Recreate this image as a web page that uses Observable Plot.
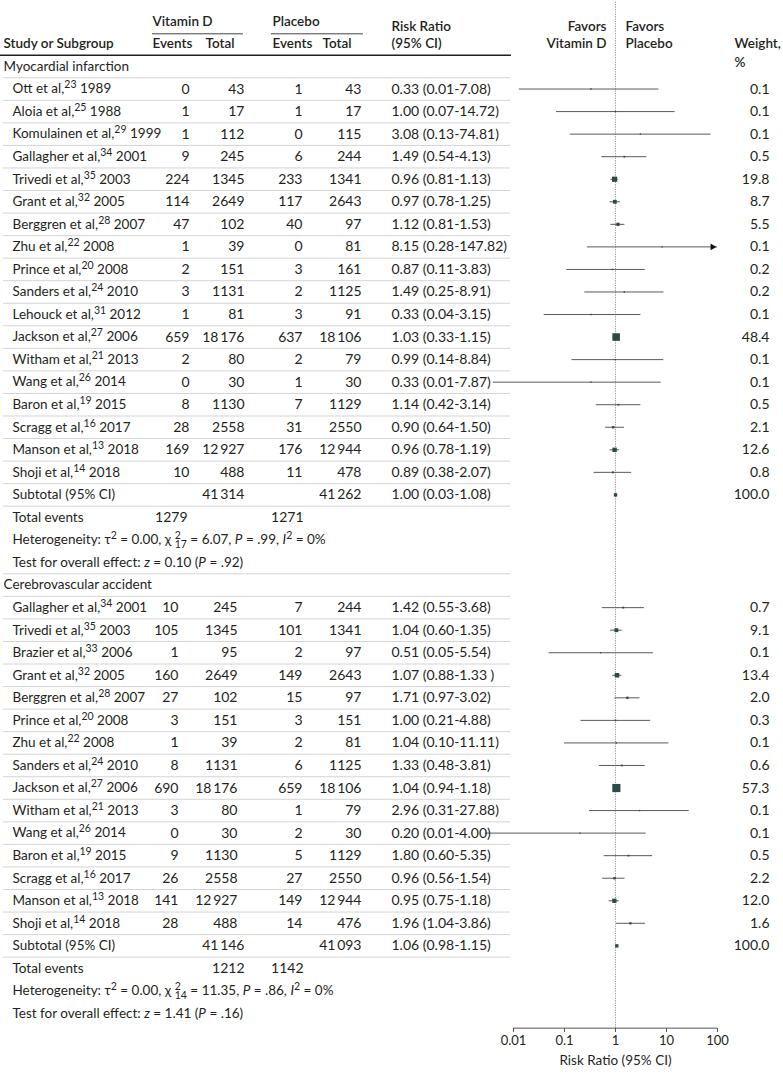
<!DOCTYPE html>
<html><head><meta charset="utf-8">
<script src="https://cdn.jsdelivr.net/npm/d3@7"></script>
<script src="https://cdn.jsdelivr.net/npm/@observablehq/plot@0.6"></script>
<style>body{margin:0;background:#fff} svg{display:block}</style>
</head><body><div id="chart"></div>
<script>
// ---------- data ----------
const sections = ["Myocardial infarction", "Cerebrovascular accident"];

const miStudy = ["Ott et al,^23^ 1989","Aloia et al,^25^ 1988","Komulainen et al,^29^ 1999","Gallagher et al,^34^ 2001","Trivedi et al,^35^ 2003","Grant et al,^32^ 2005","Berggren et al,^28^ 2007","Zhu et al,^22^ 2008","Prince et al,^20^ 2008","Sanders et al,^24^ 2010","Lehouck et al,^31^ 2012","Jackson et al,^27^ 2006","Witham et al,^21^ 2013","Wang et al,^26^ 2014","Baron et al,^19^ 2015","Scragg et al,^16^ 2017","Manson et al,^13^ 2018","Shoji et al,^14^ 2018"];
const miVitEvents = [0,1,1,9,224,114,47,1,2,3,1,659,2,0,8,28,169,10];
const miVitTotal  = [43,17,112,245,1345,2649,102,39,151,1131,81,18176,80,30,1130,2558,12927,488];
const miPlaEvents = [1,1,0,6,233,117,40,0,3,2,3,637,2,1,7,31,176,11];
const miPlaTotal  = [43,17,115,244,1341,2643,97,81,161,1125,91,18106,79,30,1129,2550,12944,478];
const miRR = [0.33,1.00,3.08,1.49,0.96,0.97,1.12,8.15,0.87,1.49,0.33,1.03,0.99,0.33,1.14,0.90,0.96,0.89];
const miLo = [0.013,0.07,0.13,0.54,0.81,0.78,0.81,0.28,0.11,0.25,0.04,0.93,0.14,0.004,0.42,0.64,0.78,0.38];
const miHi = [7.08,14.72,74.81,4.13,1.13,1.25,1.53,147.82,3.83,8.91,3.15,1.15,8.84,7.87,3.14,1.50,1.19,2.07];
const miWeight = [0.1,0.1,0.1,0.5,19.8,8.7,5.5,0.1,0.2,0.2,0.1,48.4,0.1,0.1,0.5,2.1,12.6,0.8];
const miRRText = ["0.33 (0.01-7.08)","1.00 (0.07-14.72)","3.08 (0.13-74.81)","1.49 (0.54-4.13)","0.96 (0.81-1.13)","0.97 (0.78-1.25)","1.12 (0.81-1.53)","8.15 (0.28-147.82)","0.87 (0.11-3.83)","1.49 (0.25-8.91)","0.33 (0.04-3.15)","1.03 (0.33-1.15)","0.99 (0.14-8.84)","0.33 (0.01-7.87)","1.14 (0.42-3.14)","0.90 (0.64-1.50)","0.96 (0.78-1.19)","0.89 (0.38-2.07)"];

const cvStudy = ["Gallagher et al,^34^ 2001","Trivedi et al,^35^ 2003","Brazier et al,^33^ 2006","Grant et al,^32^ 2005","Berggren et al,^28^ 2007","Prince et al,^20^ 2008","Zhu et al,^22^ 2008","Sanders et al,^24^ 2010","Jackson et al,^27^ 2006","Witham et al,^21^ 2013","Wang et al,^26^ 2014","Baron et al,^19^ 2015","Scragg et al,^16^ 2017","Manson et al,^13^ 2018","Shoji et al,^14^ 2018"];
const cvVitEvents = [10,105,1,160,27,3,1,8,690,3,0,9,26,141,28];
const cvVitTotal  = [245,1345,95,2649,102,151,39,1131,18176,80,30,1130,2558,12927,488];
const cvPlaEvents = [7,101,2,149,15,3,2,6,659,1,2,5,27,149,14];
const cvPlaTotal  = [244,1341,97,2643,97,151,81,1125,18106,79,30,1129,2550,12944,476];
const cvRR = [1.42,1.04,0.51,1.07,1.71,1.00,1.04,1.33,1.04,2.96,0.20,1.80,0.96,0.95,1.96];
const cvLo = [0.55,0.80,0.05,0.88,0.97,0.21,0.10,0.48,0.94,0.31,0.0028,0.60,0.56,0.75,1.04];
const cvHi = [3.68,1.35,5.54,1.33,3.02,4.88,11.11,3.81,1.18,27.88,4.00,5.35,1.54,1.18,3.86];
const cvWeight = [0.7,9.1,0.1,13.4,2.0,0.3,0.1,0.6,57.3,0.1,0.1,0.5,2.2,12.0,1.6];
const cvRRText = ["1.42 (0.55-3.68)","1.04 (0.60-1.35)","0.51 (0.05-5.54)","1.07 (0.88-1.33 )","1.71 (0.97-3.02)","1.00 (0.21-4.88)","1.04 (0.10-11.11)","1.33 (0.48-3.81)","1.04 (0.94-1.18)","2.96 (0.31-27.88)","0.20 (0.01-4.00)","1.80 (0.60-5.35)","0.96 (0.56-1.54)","0.95 (0.75-1.18)","1.96 (1.04-3.86)"];

const subVitTotal = [41314, 41146];
const subPlaTotal = [41262, 41093];
const subRR = [1.00, 1.06];
const subRRText = ["1.00 (0.03-1.08)", "1.06 (0.98-1.15)"];
const subWeight = [100.0, 100.0];
const totVit = [1279, 1212];
const totPla = [1271, 1142];
const hetText = ["Heterogeneity: τ^2^ = 0.00, χ ^2^_17_ = 6.07, *P* = .99, *I*^2^ = 0%",
                 "Heterogeneity: τ^2^ = 0.00, χ ^2^_14_ = 11.35, *P* = .86, *I*^2^ = 0%"];
const testText = ["Test for overall effect: *z* = 0.10 (*P* = .92)",
                  "Test for overall effect: *z* = 1.41 (*P* = .16)"];
const xTicks = [0.01, 0.1, 1, 10, 100];

// ---------- build rows ----------
const secData = [
  {names: miStudy, ve: miVitEvents, vt: miVitTotal, pe: miPlaEvents, pt: miPlaTotal, rr: miRR, lo: miLo, hi: miHi, w: miWeight, txt: miRRText},
  {names: cvStudy, ve: cvVitEvents, vt: cvVitTotal, pe: cvPlaEvents, pt: cvPlaTotal, rr: cvRR, lo: cvLo, hi: cvHi, w: cvWeight, txt: cvRRText}
];
const studies = [], secRows = [], subRows = [], totRows = [], hetRows = [], testRows = [], seps = [];
let r = 0;
secData.forEach((s, si) => {
  secRows.push({i: r, label: sections[si]}); seps.push(r + 0.5); r++;
  s.names.forEach((n, k) => {
    studies.push({i: r, sec: si, name: n, ve: s.ve[k], vt: s.vt[k], pe: s.pe[k], pt: s.pt[k],
                  rr: s.rr[k], lo: s.lo[k], hi: s.hi[k], w: s.w[k], txt: s.txt[k]});
    seps.push(r + 0.5); r++;
  });
  subRows.push({i: r, sec: si, vt: subVitTotal[si], pt: subPlaTotal[si], rr: subRR[si], txt: subRRText[si], w: subWeight[si]});
  seps.push(r + 0.5); r++;
  totRows.push({i: r, sec: si, ve: totVit[si], pe: totPla[si]}); r++;
  hetRows.push({i: r, t: hetText[si]}); r++;
  testRows.push({i: r, t: testText[si]}); if (si === 0) seps.push(r + 0.5); r++;
});

const fmtN = n => n >= 10000 ? d3.format(",")(n).replace(",", "\u2009") : String(n);
const ink = "#231f20";
const FS = 13.5, NFS = 14;
const base = {frameAnchor: "left", fill: ink, fontSize: FS, y: "i"};
const num = {frameAnchor: "left", fill: ink, fontSize: NFS, y: "i", ariaLabel: "num"};
const wnum = {frameAnchor: "left", fill: ink, fontSize: NFS, y: "i", ariaLabel: "wnum"};
const rrnum = {frameAnchor: "left", fill: ink, fontSize: NFS, y: "i", ariaLabel: "rrnum"};
const T = (str, row, x, anchor = "start", bold = false) =>
  Plot.text([str], {frameAnchor: "left", fill: ink, fontSize: FS, y: row, dx: x, textAnchor: anchor, fontWeight: bold ? 600 : 400});

const sec0 = studies.filter(d => d.sec === 0), sec1 = studies.filter(d => d.sec === 1);

const chart = Plot.plot({
  width: 783, height: 1080,
  marginLeft: 0, marginRight: 0, marginTop: 0, marginBottom: 52,
  style: {fontFamily: "Lato, 'Open Sans', sans-serif", fontSize: FS + "px", background: "#fff", color: ink},
  x: {type: "log", domain: [0.01, 100], range: [513, 717]},
  y: {domain: [-2, 42], range: [20.9, 1013], axis: null},
  r: {type: "sqrt", domain: [0, 57.3], range: [0.6, 4.6]},
  marks: [
    // separators
    Plot.ruleY(seps, {y: d => d, stroke: "#d4d4d4", strokeWidth: 1, insetLeft: 3, insetRight: 273}),
    Plot.ruleY([-0.5], {y: d => d, stroke: "#231f20", strokeWidth: 1.5, insetRight: 272}),
    Plot.ruleY([-1.45], {y: d => d, stroke: "#444", strokeWidth: 1, insetLeft: 152, insetRight: 540}),
    Plot.ruleY([-1.45], {y: d => d, stroke: "#444", strokeWidth: 1, insetLeft: 271, insetRight: 420}),
    // null line
    Plot.ruleX([1], {x: d => d, y1: -2.85, y2: 42.65, stroke: "#999", strokeWidth: 1, strokeDasharray: "1.2 1.2"}),
    // axis line
    Plot.ruleY([42.65], {y: d => d, x1: 0.01, x2: 100, stroke: "#555", strokeWidth: 1}),
    Plot.axisX({ticks: xTicks, tickFormat: d => String(d), tickSize: 4, tickPadding: 3, fontSize: 13, label: null, anchor: "bottom", stroke: "#555", fill: ink}),
    Plot.text(["Risk Ratio (95% CI)"], {x: 1, y: 44.1, fill: ink, fontSize: FS, textAnchor: "middle"}),
    // CIs
    Plot.ruleY(studies, {y: "i", x1: "lo", x2: d => Math.min(d.hi, 100), stroke: "#5a5a5a", strokeWidth: 1}),
    Plot.dot(studies.filter(d => d.hi > 100), {x: 100, y: "i", symbol: "triangle2", rotate: 90, r: 3.2, dx: -5, fill: "#111"}),
    Plot.dot(studies, {x: "rr", y: "i", r: "w", symbol: "square", fill: "#2c4a47"}),
    Plot.dot(subRows, {x: "rr", y: "i", r: 1.9, symbol: "square", fill: "#2c4a47"}),
    // headers
    T("Vitamin D", -2, 152, "start", true),
    T("Placebo", -2, 272, "start", true),
    T("Study or Subgroup", -1, 3, "start", true),
    T("Events", -1, 152, "start", true),
    T("Total", -1, 205, "start", true),
    T("Events", -1, 272, "start", true),
    T("Total", -1, 322, "start", true),
    T("Risk Ratio", -1.75, 391, "start", true),
    T("(95% CI)", -1, 391, "start", true),
    T("Favors", -1.75, 606, "end", true),
    T("Vitamin D", -1, 606, "end", true),
    T("Favors", -1.75, 625, "start", true),
    T("Placebo", -1, 625, "start", true),
    T("Weight,", -1, 734, "start", true),
    T("%", -0.15, 734, "start", true),
    // section headings
    Plot.text(secRows, {...base, text: "label", dx: 3, textAnchor: "start"}),
    // studies
    Plot.text(studies, {...base, text: "name", dx: 12, textAnchor: "start"}),
    Plot.text(sec0, {...num, text: d => fmtN(d.ve), dx: 189, textAnchor: "end"}),
    Plot.text(sec0, {...num, text: d => fmtN(d.vt), dx: 244, textAnchor: "end"}),
    Plot.text(sec1, {...num, text: d => fmtN(d.ve), dx: 178, textAnchor: "end"}),
    Plot.text(sec1, {...num, text: d => fmtN(d.vt), dx: 237, textAnchor: "end"}),
    Plot.text(studies, {...num, text: d => fmtN(d.pe), dx: 302, textAnchor: "end"}),
    Plot.text(studies, {...num, text: d => fmtN(d.pt), dx: 361, textAnchor: "end"}),
    Plot.text(studies, {...rrnum, text: "txt", dx: 391, textAnchor: "start"}),
    Plot.text(studies, {...wnum, text: d => d.w.toFixed(1), dx: 769, textAnchor: "end"}),
    // subtotals
    Plot.text(subRows, {...base, text: () => "Subtotal (95% CI)", dx: 12, textAnchor: "start"}),
    Plot.text(subRows, {...num, text: d => fmtN(d.vt), dx: 244, textAnchor: "end"}),
    Plot.text(subRows, {...num, text: d => fmtN(d.pt), dx: 361, textAnchor: "end"}),
    Plot.text(subRows, {...rrnum, text: "txt", dx: 391, textAnchor: "start"}),
    Plot.text(subRows, {...wnum, text: d => d.w.toFixed(1), dx: 769, textAnchor: "end"}),
    // total events
    Plot.text(totRows, {...base, text: () => "Total events", dx: 12, textAnchor: "start"}),
    Plot.text(totRows.filter(d => d.sec === 0), {...num, text: d => fmtN(d.ve), dx: 187, textAnchor: "end"}),
    Plot.text(totRows.filter(d => d.sec === 1), {...num, text: d => fmtN(d.ve), dx: 244, textAnchor: "end"}),
    Plot.text(totRows, {...num, text: d => fmtN(d.pe), dx: 303, textAnchor: "end"}),
    // heterogeneity / test
    Plot.text(hetRows, {...base, text: "t", dx: 12, textAnchor: "start"}),
    Plot.text(testRows, {...base, text: "t", dx: 12, textAnchor: "start"})
  ]
});

document.getElementById("chart").appendChild(chart);

// wider figure spacing for numeric columns
chart.querySelectorAll('g[aria-label="num"]').forEach(g => g.style.letterSpacing = "1.1px");
chart.querySelectorAll('g[aria-label="rrnum"]').forEach(g => g.style.letterSpacing = "0.75px");
chart.querySelectorAll('g[aria-label="wnum"]').forEach(g => g.style.letterSpacing = "1.8px");

// rich text: ^sup^, _sub_, *italic*
function richText(svg) {
  const NS = "http://www.w3.org/2000/svg";
  svg.querySelectorAll("text").forEach(el => {
    const s = el.textContent;
    if (!/[\^_*]/.test(s)) return;
    const parts = s.split(/(\^[^^]+\^|_[^_]+_|\*[^*]+\*)/).filter(p => p !== "");
    el.textContent = "";
    let shift = 0, lastSup = null;
    parts.forEach(p => {
      const ts = document.createElementNS(NS, "tspan");
      let target = 0, content = p, kind = "n";
      if (p[0] === "^" && p.length > 2) { kind = "sup"; target = -5; content = p.slice(1, -1); ts.setAttribute("font-size", "10.5"); }
      else if (p[0] === "_" && p.length > 2) { kind = "sub"; target = 4; content = p.slice(1, -1); ts.setAttribute("font-size", "10.5"); }
      else if (p[0] === "*" && p.length > 2) { kind = "it"; content = p.slice(1, -1); ts.setAttribute("font-style", "italic"); }
      ts.textContent = content;
      if (target !== shift) ts.setAttribute("dy", target - shift);
      shift = target;
      el.appendChild(ts);
      if (kind === "sub" && lastSup) ts.setAttribute("dx", -lastSup.getComputedTextLength());
      lastSup = kind === "sup" ? ts : null;
    });
  });
}
richText(chart);
</script></body></html>
